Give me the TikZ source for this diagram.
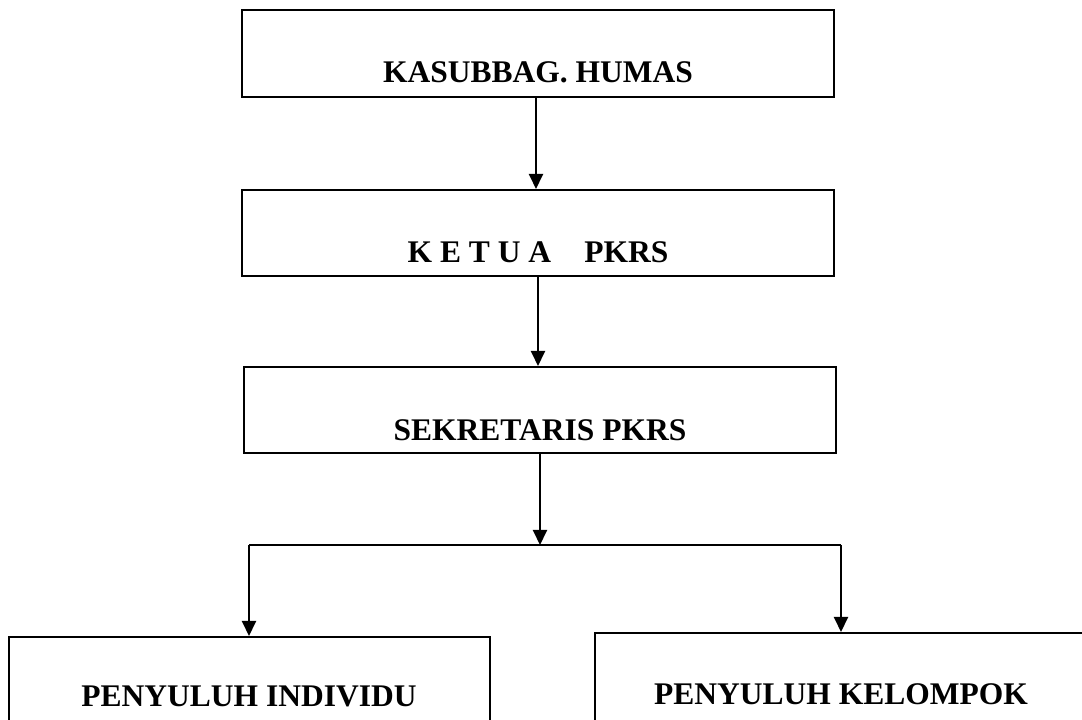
\documentclass[tikz,border=0pt]{standalone}
\usepackage{fontspec}
\setmainfont{Liberation Serif}
\usetikzlibrary{arrows.meta}
\tikzset{
  orgbox/.style={draw=black, line width=2pt, inner sep=0pt, fill=white,
    font=\fontsize{31.5}{38}\selectfont\bfseries, align=center},
  conn/.style={draw=black, line width=2pt},
  arr/.style={conn, -{Triangle[length=15pt,width=14pt]}}
}
\begin{document}
\begin{tikzpicture}[x=1pt,y=1pt]
\useasboundingbox (0,0) rectangle (1082,720);
\clip (0,0) rectangle (1082,720);
\fill[white] (0,0) rectangle (1082,720);
% boxes
\node[orgbox, minimum width=592pt, text height=73pt, text depth=14pt] (b1) at (538,666.5) {KASUBBAG. HUMAS};
\node[orgbox, minimum width=592pt, text height=73pt, text depth=13pt] (b2) at (538,487) {K E T U A\hspace{0.8em} PKRS};
\node[orgbox, minimum width=592pt, text height=74pt, text depth=12pt] (b3) at (540,310) {SEKRETARIS PKRS};
\node[orgbox, minimum width=481pt, text height=70pt, text depth=40pt, anchor=north] (b4) at (249,84) {PENYULUH INDIVIDU};
\node[orgbox, minimum width=492pt, text height=72pt, text depth=40pt, anchor=north] (b5) at (841,88) {PENYULUH KELOMPOK};
% connectors
\coordinate (j) at (b3.south |- 0,175);
\coordinate (jl) at (b4.north |- j);
\coordinate (jr) at (b5.north |- j);
\draw[arr] ([xshift=-2pt]b1.south) -- ([xshift=-2pt]b1.south |- b2.north);
\draw[arr] (b2.south) -- (b2.south |- b3.north);
\draw[arr] (b3.south) -- (j);
\draw[conn] (jl) -- (jr);
\draw[arr] (jl) -- (b4.north);
\draw[arr] (jr) -- (b5.north);
\end{tikzpicture}
\end{document}
